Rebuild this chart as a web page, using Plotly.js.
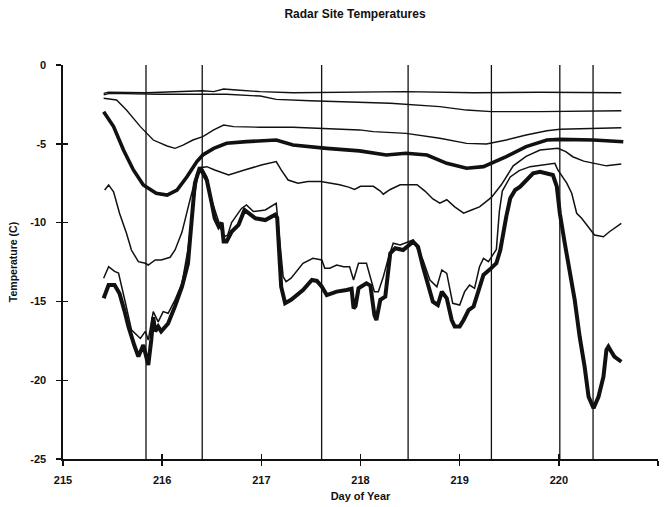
<!DOCTYPE html>
<html>
<head>
<meta charset="utf-8">
<script src="https://cdn.plot.ly/plotly-3.0.1.min.js"></script>
<style>html,body{margin:0;padding:0;background:#fff;}#chart{width:666px;height:507px;}</style>
</head>
<body>
<div id="chart"></div>
<script>
// Vertical event lines (day of year)
const eventDays = [215.837, 216.404, 217.608, 218.48, 219.32, 220.01, 220.345];

// Series A (thin, top)
const dayA = [215.41,215.46,215.84,216.31,216.41,216.52,216.62,216.75,216.99,217.32,217.79,217.99,218.46,219.14,219.81,220.63];
const tempA = [-1.8,-1.73,-1.76,-1.69,-1.63,-1.69,-1.52,-1.59,-1.69,-1.76,-1.74,-1.69,-1.69,-1.76,-1.73,-1.76];

// Series B (thin)
const dayB = [215.41,215.47,215.98,216.41,216.65,216.99,217.15,217.49,217.79,217.99,218.3,218.8,219.07,219.32,219.81,220.63];
const tempB = [-1.9,-1.8,-1.86,-1.86,-1.86,-1.97,-2.18,-2.27,-2.33,-2.33,-2.43,-2.64,-2.86,-2.96,-2.96,-2.9];

// Series C (thin)
const dayC = [215.41,215.54,215.64,215.78,215.91,216.05,216.13,216.21,216.31,216.41,216.52,216.62,216.72,216.99,217.32,217.66,217.99,218.13,218.46,218.8,219.07,219.27,219.47,219.67,219.88,220.01,220.35,220.63];
const tempC = [-2.11,-2.22,-2.86,-3.91,-4.76,-5.14,-5.29,-5.08,-4.76,-4.55,-4.12,-3.81,-3.91,-3.95,-3.95,-4.02,-4.12,-4.23,-4.34,-4.65,-4.97,-5.01,-4.76,-4.44,-4.17,-4.08,-4.02,-3.98];

// Series D (heavy)
const dayD = [215.41,215.51,215.61,215.71,215.81,215.94,216.05,216.15,216.25,216.35,216.41,216.52,216.65,216.85,217.15,217.32,217.66,217.99,218.26,218.46,218.67,218.87,219.07,219.24,219.47,219.67,219.88,220.01,220.35,220.65];
const tempD = [-2.96,-3.91,-5.39,-6.66,-7.61,-8.14,-8.25,-7.93,-7.09,-6.13,-5.71,-5.29,-4.97,-4.86,-4.76,-5.08,-5.29,-5.45,-5.71,-5.6,-5.71,-6.24,-6.55,-6.45,-5.82,-5.18,-4.76,-4.72,-4.76,-4.87];

// Series E (thin)
const dayE = [215.42,215.46,215.51,215.57,215.64,215.69,215.76,215.83,215.86,215.93,215.99,216.08,216.13,216.2,216.28,216.35,216.4,216.45,216.53,216.67,216.83,217.0,217.15,217.2,217.27,217.37,217.47,217.6,217.79,217.88,217.94,218.0,218.13,218.2,218.23,218.3,218.4,218.57,218.65,218.73,218.8,218.87,218.95,219.04,219.12,219.2,219.32,219.42,219.54,219.67,219.81,219.99,220.07,220.14,220.25,220.35,220.48,220.63];
const tempE = [-7.93,-7.61,-8.04,-9.41,-10.68,-11.74,-12.48,-12.58,-12.69,-12.37,-12.37,-12.2,-11.74,-10.6,-8.57,-6.87,-6.5,-6.45,-6.66,-6.98,-6.66,-6.35,-6.13,-6.66,-7.3,-7.5,-7.4,-7.4,-7.6,-7.75,-7.9,-7.7,-7.7,-8.0,-8.2,-7.9,-7.6,-7.6,-8.0,-8.5,-8.77,-8.55,-9.0,-9.4,-9.2,-9.0,-8.4,-7.6,-6.4,-5.8,-5.4,-5.28,-5.5,-5.82,-6.1,-6.24,-6.4,-6.28];

// Series F (thin, tracks G)
const dayF = [215.41,215.46,215.52,215.56,215.63,215.69,215.78,215.83,215.86,215.91,215.96,216.01,216.06,216.13,216.2,216.26,216.32,216.37,216.4,216.45,216.5,216.55,216.62,216.66,216.7,216.8,216.85,216.92,217.04,217.15,217.22,217.25,217.3,217.42,217.52,217.61,217.64,217.69,217.76,217.83,217.89,217.93,217.98,218.06,218.09,218.14,218.18,218.23,218.28,218.33,218.4,218.53,218.63,218.7,218.77,218.82,218.87,218.9,218.93,219.0,219.05,219.1,219.15,219.2,219.24,219.29,219.34,219.37,219.4,219.43,219.51,219.6,219.71,219.84,219.96,219.99,220.08,220.13,220.18,220.23,220.28,220.36,220.45,220.51,220.63];
const tempF = [-13.53,-12.8,-13.1,-13.2,-15.1,-16.8,-17.35,-16.9,-17.45,-15.65,-16.3,-15.65,-15.75,-14.9,-13.85,-11.7,-8.5,-6.6,-6.5,-7.09,-8.6,-9.6,-10.9,-10.8,-10.0,-9.1,-8.88,-9.3,-9.2,-8.78,-13.43,-13.75,-13.53,-12.58,-12.27,-12.37,-12.9,-12.9,-12.69,-12.8,-12.8,-13.64,-12.58,-12.58,-13.2,-14.38,-14.38,-13.43,-12.27,-11.31,-11.42,-11.1,-12.37,-13.64,-14.07,-13.0,-13.22,-14.28,-15.12,-15.23,-14.38,-13.96,-14.17,-12.8,-12.27,-12.48,-11.95,-11.7,-9.3,-8.0,-7.1,-6.7,-6.45,-6.35,-6.24,-6.66,-7.5,-8.14,-9.41,-9.73,-10.15,-10.79,-10.9,-10.58,-10.05];

// Series G (heavy, lowest)
const dayG = [215.41,215.44,215.46,215.52,215.57,215.62,215.66,215.72,215.76,215.81,215.86,215.89,215.91,215.93,215.96,215.99,216.06,216.13,216.2,216.26,216.3,216.33,216.38,216.42,216.45,216.5,216.53,216.57,216.6,216.62,216.65,216.7,216.77,216.83,216.89,216.94,217.04,217.14,217.16,217.2,217.24,217.3,217.42,217.51,217.56,217.61,217.66,217.76,217.86,217.91,217.93,217.95,217.98,218.06,218.1,218.14,218.16,218.2,218.25,218.3,218.35,218.43,218.53,218.58,218.63,218.7,218.73,218.78,218.82,218.87,218.92,218.95,219.0,219.04,219.09,219.14,219.19,219.24,219.3,219.37,219.41,219.44,219.47,219.51,219.56,219.61,219.67,219.74,219.81,219.89,219.94,219.98,220.01,220.06,220.11,220.16,220.21,220.26,220.3,220.35,220.4,220.45,220.48,220.5,220.53,220.56,220.63];
const tempG = [-14.8,-14.2,-13.96,-13.96,-14.5,-15.6,-16.6,-17.8,-18.5,-17.77,-19.04,-17.45,-16.0,-16.9,-16.6,-16.9,-16.4,-15.3,-14.07,-12.6,-10.0,-7.5,-6.5,-6.9,-7.3,-8.78,-9.73,-10.26,-10.0,-11.2,-11.2,-10.58,-10.15,-9.2,-9.5,-9.73,-9.84,-9.5,-9.7,-14.07,-15.12,-14.9,-14.28,-13.64,-13.7,-14.07,-14.6,-14.38,-14.28,-14.2,-15.44,-15.3,-14.17,-13.85,-14.0,-15.86,-16.18,-14.9,-14.7,-11.95,-11.63,-11.74,-11.21,-11.53,-12.8,-14.28,-15.02,-15.23,-14.38,-14.8,-16.18,-16.6,-16.6,-16.18,-15.55,-15.33,-14.28,-13.32,-13.0,-12.58,-11.74,-10.5,-9.62,-8.46,-7.93,-7.72,-7.3,-6.87,-6.77,-6.87,-6.98,-7.72,-9.41,-11.31,-13.0,-14.9,-17.24,-19.14,-21.05,-21.78,-21.05,-19.78,-18.08,-17.87,-18.19,-18.5,-18.83];

const xTicks = [215,216,217,218,219,220,221];
const yTicks = [0,-5,-10,-15,-20,-25];

const ink = '#111111';
const fam = 'Liberation Sans, Arial, sans-serif';
function line(x, y, w) {
  return {x: x, y: y, type: 'scatter', mode: 'lines', line: {color: ink, width: w, shape: 'linear'}, hoverinfo: 'skip', showlegend: false};
}

const traces = [
  line(dayA, tempA, 1.4),
  line(dayB, tempB, 1.4),
  line(dayC, tempC, 1.4),
  line(dayD, tempD, 3.6),
  line(dayE, tempE, 1.5),
  line(dayF, tempF, 1.5),
  line(dayG, tempG, 4.0),
  {x: [215], y: [0], xaxis: 'x2', yaxis: 'y2', type: 'scatter', mode: 'markers', marker: {opacity: 0}, hoverinfo: 'skip', showlegend: false}
];

const shapes = eventDays.map(d => ({
  type: 'line', xref: 'x', yref: 'y', x0: d, x1: d, y0: -25, y1: 0,
  line: {color: ink, width: 1.3}
}));

const tickFont = {family: fam, size: 11, color: ink, weight: 'bold'};

const layout = {
  width: 666, height: 507,
  margin: {l: 63, r: 8, t: 65, b: 48},
  paper_bgcolor: '#ffffff', plot_bgcolor: '#ffffff',
  title: {text: 'Radar Site Temperatures', x: 0.533, xanchor: 'center', y: 0.972, yanchor: 'middle',
          font: {family: fam, size: 12, color: ink, weight: 'bold'}},
  xaxis: {
    range: [215, 221], tickmode: 'array', tickvals: xTicks, ticktext: xTicks.map(String),
    showgrid: false, zeroline: false, showline: true, linecolor: ink, linewidth: 1.6,
    ticks: 'outside', ticklen: 5, tickwidth: 1.4, tickcolor: ink, tickfont: tickFont, ticklabelstandoff: 5,
    title: {text: 'Day of Year', standoff: 7, font: {family: fam, size: 11, color: ink, weight: 'bold'}}
  },
  yaxis: {
    range: [-25, 0], tickmode: 'array', tickvals: yTicks, ticktext: yTicks.map(String),
    showgrid: false, zeroline: false, showline: true, linecolor: ink, linewidth: 1.6,
    ticks: 'outside', ticklen: 5, tickwidth: 1.4, tickcolor: ink, tickfont: tickFont, ticklabelstandoff: 8,
    title: {text: 'Temperature (C)', standoff: 10, font: {family: fam, size: 10.5, color: ink, weight: 'bold'}}
  },
  xaxis2: {overlaying: 'x', range: [215, 221], tickmode: 'array', tickvals: xTicks, showticklabels: false,
           ticks: 'inside', ticklen: 5, tickwidth: 1.4, tickcolor: ink, showgrid: false, zeroline: false, showline: false, anchor: 'y', side: 'bottom'},
  yaxis2: {overlaying: 'y', range: [-25, 0], tickmode: 'array', tickvals: yTicks, showticklabels: false,
           ticks: 'inside', ticklen: 5, tickwidth: 1.4, tickcolor: ink, showgrid: false, zeroline: false, showline: false, anchor: 'x', side: 'left'},
  shapes: shapes
};

Plotly.newPlot('chart', traces, layout, {staticPlot: true, displayModeBar: false});
</script>
</body>
</html>
